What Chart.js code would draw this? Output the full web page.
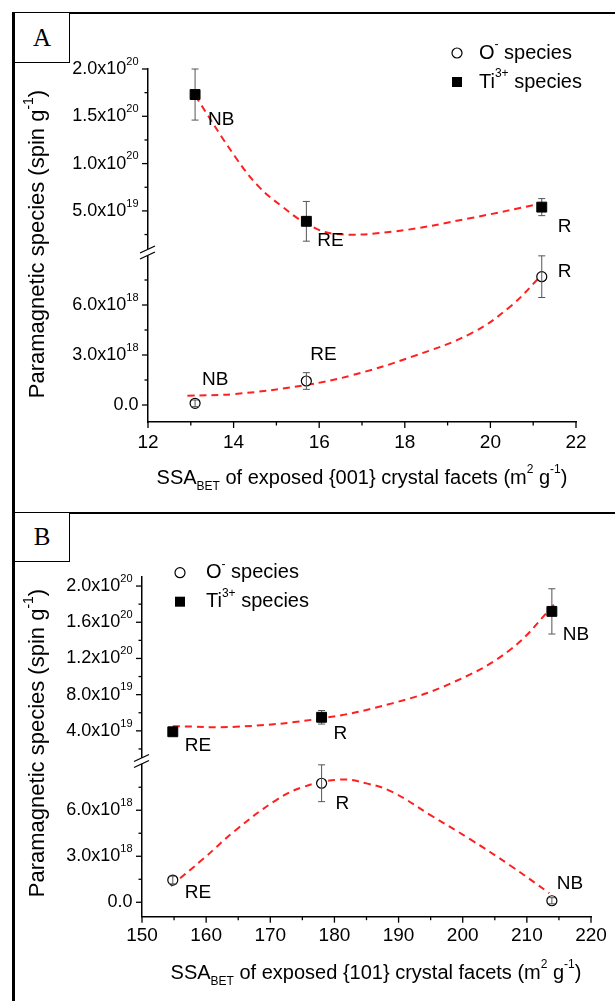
<!DOCTYPE html>
<html>
<head>
<meta charset="utf-8">
<script src="https://cdn.jsdelivr.net/npm/chart.js@4.4.1/dist/chart.umd.min.js"></script>
<style>
  body { margin: 0; background: #fff; width: 615px; height: 1001px; overflow: hidden; position: relative; }
  .panel { position: absolute; border-top: 2px solid #000; border-left: 3px solid #000; }
  .tag { position: absolute; box-sizing: border-box; border: 1.5px solid #000; border-left: 3px solid #000;
         font-family: "Liberation Serif", "Times New Roman", serif; font-size: 25px;
         display: flex; align-items: center; justify-content: center; background: #fff; }
  .wrap { position: absolute; left: 0; width: 615px; }
</style>
</head>
<body>
<div class="panel" style="left:12px;top:12px;width:640px;height:500px"></div>
<div class="panel" style="left:12px;top:512px;width:640px;height:520px"></div>
<div class="tag" style="left:12px;top:12px;width:58px;height:51px">A</div>
<div class="tag" style="left:12px;top:512px;width:58px;height:50px">B</div>
<div class="wrap" style="top:0;height:513px"><canvas id="chartA"></canvas></div>
<div class="wrap" style="top:513px;height:488px"><canvas id="chartB"></canvas></div>
<script>
// ---- panel A: SSA of exposed {001} facets ----
var aX = [13.1, 15.7, 21.2];
var aNames = ['NB', 'RE', 'R'];
var aTi = [1.73e20, 3.9e19, 5.4e19];
var aTiErr = [2.7e19, 2.1e19, 0.9e19];
var aO = [0.1e18, 1.44e18, 7.7e18];
var aOErr = [0.2e18, 0.5e18, 1.25e18];
var aTiFitX = [13.1, 14.04, 14.59, 15.14, 15.69, 16.33, 17.7, 19.55, 21.2];
var aTiFitY = [1.72e20, 1.07e20, 7.56e19, 5.44e19, 3.7e19, 2.6e19, 2.8e19, 4.25e19, 5.8e19];
var aOFitX = [12.92, 14.04, 15.69, 16.79, 18.17, 19.55, 20.46, 21.2];
var aOFitY = [0.56e18, 0.66e18, 1.2e18, 1.8e18, 2.9e18, 4.3e18, 5.9e18, 7.8e18];
var aXTicks = [12, 14, 16, 18, 20, 22];
var aXMinor = [13, 15, 17, 19, 21];
var aUpTicks = [5e19, 1e20, 1.5e20, 2e20];
var aUpLabels = ['5.0x10^19', '1.0x10^20', '1.5x10^20', '2.0x10^20'];
var aUpMinor = [2.5e19, 7.5e19, 1.25e20, 1.75e20];

// ---- panel B: SSA of exposed {101} facets ----
var bX = [154.8, 178.0, 213.9];
var bNames = ['RE', 'R', 'NB'];
var bTi = [3.9e19, 5.5e19, 1.72e20];
var bTiErr = [0.3e19, 0.75e19, 2.5e19];
var bO = [1.45e18, 7.76e18, 0.1e18];
var bOErr = [0.25e18, 1.2e18, 0.2e18];
var bTiFitX = [154.8, 164.6, 178, 189, 198.2, 207.4, 214.7];
var bTiFitY = [4.52e19, 4.45e19, 5.38e19, 7.04e19, 9.26e19, 1.296e20, 1.83e20];
var bOFitX = [154.5, 159.6, 164.6, 170.7, 175, 180.9, 185, 189, 195.1, 201.2, 207.4, 213.5];
var bOFitY = [1.06e18, 2.85e18, 4.7e18, 6.6e18, 7.5e18, 8.0e18, 7.75e18, 7.2e18, 5.65e18, 4.1e18, 2.4e18, 0.6e18];
var bXTicks = [150, 160, 170, 180, 190, 200, 210, 220];
var bXMinor = [155, 165, 175, 185, 195, 205, 215];
var bUpTicks = [4e19, 8e19, 1.2e20, 1.6e20, 2e20];
var bUpLabels = ['4.0x10^19', '8.0x10^19', '1.2x10^20', '1.6x10^20', '2.0x10^20'];
var bUpMinor = [2e19, 6e19, 1e20, 1.4e20, 1.8e20];

// lower (broken) segment, same in both panels
var lowTicks = [0, 3e18, 6e18];
var lowLabels = ['0.0', '3.0x10^18', '6.0x10^18'];
var lowMinor = [1.5e18, 4.5e18, 7.5e18];

var FONT = '"Liberation Sans", Arial, sans-serif';
var RED = '#ff1f1f';

function pts(xs, ys) {
  return xs.map(function (x, i) { return { x: x, y: ys[i] }; });
}

function expParts(s) {
  var p = s.split('^');
  return p.length > 1 ? [[p[0], 'n'], [p[1], 'sup']] : [[p[0], 'n']];
}

function partFont(p, size) {
  return (p[1] === 'n' ? size : Math.round(size * 0.62)) + 'px ' + FONT;
}

function richWidth(ctx, parts, size) {
  var w = 0;
  parts.forEach(function (p) { ctx.font = partFont(p, size); w += ctx.measureText(p[0]).width; });
  return w;
}

function drawRich(ctx, parts, x, y, size, align) {
  var w = richWidth(ctx, parts, size);
  var cx = align === 'right' ? x - w : (align === 'center' ? x - w / 2 : x);
  ctx.textAlign = 'left';
  ctx.textBaseline = 'middle';
  parts.forEach(function (p) {
    ctx.font = partFont(p, size);
    var dy = p[1] === 'sup' ? -size * 0.4 : (p[1] === 'sub' ? size * 0.42 : 0);
    ctx.fillText(p[0], cx, y + dy);
    cx += ctx.measureText(p[0]).width;
  });
}

function seg(ctx, x1, y1, x2, y2) {
  ctx.beginPath(); ctx.moveTo(x1, y1); ctx.lineTo(x2, y2); ctx.stroke();
}

function drawErrors(chart, list, front) {
  var ctx = chart.ctx, xs = chart.scales.x;
  list.forEach(function (e) {
    if (!!e.front !== front) return;
    var ys = chart.scales[e.scale];
    ctx.save();
    ctx.strokeStyle = '#555';
    ctx.lineWidth = 1;
    e.x.forEach(function (xv, i) {
      var px = xs.getPixelForValue(xv);
      var t = ys.getPixelForValue(e.y[i] + e.err[i]);
      var b = ys.getPixelForValue(e.y[i] - e.err[i]);
      ctx.beginPath();
      ctx.moveTo(px, t); ctx.lineTo(px, b);
      ctx.moveTo(px - 3.5, t); ctx.lineTo(px + 3.5, t);
      ctx.moveTo(px - 3.5, b); ctx.lineTo(px + 3.5, b);
      ctx.stroke();
    });
    ctx.restore();
  });
}

var panelPlugin = {
  id: 'panel',
  beforeDatasetsDraw: function (chart, args, o) { drawErrors(chart, o.errors, false); },
  afterDatasetsDraw: function (chart, args, o) {
    var ctx = chart.ctx, xs = chart.scales.x, area = chart.chartArea;
    drawErrors(chart, o.errors, true);
    ctx.save();
    ctx.strokeStyle = '#000';
    ctx.fillStyle = '#000';
    ctx.lineWidth = 1.3;

    // x axis ticks + labels
    var yb = area.bottom;
    o.xTicks.forEach(function (v) {
      var px = xs.getPixelForValue(v);
      seg(ctx, px, yb, px, yb + 6);
      ctx.font = '19px ' + FONT;
      ctx.textAlign = 'center';
      ctx.textBaseline = 'middle';
      ctx.fillText(String(v), px, yb + o.xLabelDy);
    });
    o.xMinor.forEach(function (v) {
      var px = xs.getPixelForValue(v);
      seg(ctx, px, yb, px, yb + 3.5);
    });

    // y axes ticks + labels
    var ax = area.left;
    o.yAxes.forEach(function (a) {
      var s = chart.scales[a.id];
      a.major.forEach(function (v, i) {
        var py = s.getPixelForValue(v);
        seg(ctx, ax - 6, py, ax, py);
        drawRich(ctx, expParts(a.labels[i]), ax - 9.5, py, 18, 'right');
      });
      a.minor.forEach(function (v) {
        var py = s.getPixelForValue(v);
        seg(ctx, ax - 3.5, py, ax, py);
      });
    });

    // axis break
    var b = chart.scales.yU.bottom;
    ctx.fillStyle = '#fff';
    ctx.fillRect(ax - 3, b - 3.2, 6, 6);
    ctx.fillStyle = '#000';
    ctx.lineWidth = 1.3;
    seg(ctx, ax - 8, b + 0.5, ax + 7, b - 6.5);
    seg(ctx, ax - 8, b + 6.5, ax + 7, b - 0.5);

    // point labels
    o.pointLabels.forEach(function (pl) {
      var ys = chart.scales[pl.scale];
      pl.x.forEach(function (xv, i) {
        ctx.font = '19px ' + FONT;
        ctx.textAlign = 'left';
        ctx.textBaseline = 'middle';
        ctx.fillText(pl.text[i], xs.getPixelForValue(xv) + pl.dx[i], ys.getPixelForValue(pl.y[i]) + pl.dy[i]);
      });
    });

    // legend
    var L = o.legend;
    ctx.lineWidth = 1.2;
    ctx.beginPath(); ctx.arc(L.mx, L.y1, 5, 0, Math.PI * 2); ctx.stroke();
    ctx.fillRect(L.mx - 5, L.y2 - 5, 10, 10);
    drawRich(ctx, [['O', 'n'], ['-', 'sup'], [' species', 'n']], L.tx, L.y1, 20, 'left');
    drawRich(ctx, [['Ti', 'n'], ['3+', 'sup'], [' species', 'n']], L.tx, L.y2, 20, 'left');

    // axis titles
    drawRich(ctx, o.xTitle, o.xTitlePos.x, o.xTitlePos.y, 20, 'center');
    ctx.save();
    ctx.translate(o.yTitlePos.x, o.yTitlePos.y);
    ctx.rotate(-Math.PI / 2);
    drawRich(ctx, [['Paramagnetic species (spin g', 'n'], ['-1', 'sup'], [')', 'n']], 0, 0, 22, 'center');
    ctx.restore();

    ctx.restore();
  }
};

function buildChart(id, c) {
  var plain = { grid: { display: false }, ticks: { display: false }, border: { color: '#000', width: 1.5 } };
  function sc(extra) { return Object.assign({}, plain, extra); }
  return new Chart(document.getElementById(id), {
    type: 'scatter',
    data: {
      datasets: [
        { label: 'Ti3+ species', data: pts(c.x, c.ti), yAxisID: 'yU', pointStyle: 'rect', pointRadius: 7,
          backgroundColor: '#000', borderColor: '#000', borderWidth: 1 },
        { label: 'O- species', data: pts(c.x, c.o), yAxisID: 'yL', pointStyle: 'circle', pointRadius: 5,
          backgroundColor: '#fff', borderColor: '#000', borderWidth: 1.2 },
        { label: 'Ti fit', data: pts(c.tiFitX, c.tiFitY), yAxisID: 'yU', showLine: true, pointRadius: 0,
          borderColor: RED, borderWidth: 2, borderDash: [7, 5], tension: 0.4 },
        { label: 'O fit', data: pts(c.oFitX, c.oFitY), yAxisID: 'yL', showLine: true, pointRadius: 0,
          borderColor: RED, borderWidth: 2, borderDash: [7, 5], tension: 0.4 }
      ]
    },
    options: {
      responsive: true,
      maintainAspectRatio: false,
      animation: false,
      layout: { padding: c.pad },
      plugins: { legend: { display: false }, tooltip: { enabled: false }, panel: c.panel },
      scales: {
        x: sc({ type: 'linear', min: c.xMin, max: c.xMax, afterFit: function (s) { s.height = 20; } }),
        yL: sc({ type: 'linear', position: 'left', stack: 'y', stackWeight: c.wL, min: c.lMin, max: c.lMax,
                 afterFit: function (s) { s.width = 40; } }),
        yU: sc({ type: 'linear', position: 'left', stack: 'y', stackWeight: c.wU, min: c.uMin, max: c.uMax,
                 afterFit: function (s) { s.width = 40; } })
      }
    },
    plugins: [panelPlugin]
  });
}

buildChart('chartA', {
  x: aX, ti: aTi, o: aO, tiFitX: aTiFitX, tiFitY: aTiFitY, oFitX: aOFitX, oFitY: aOFitY,
  pad: { left: 108, right: 39, top: 69, bottom: 71 },
  xMin: 12, xMax: 22,
  uMin: 6.03e18, uMax: 2e20, wU: 183.5,
  lMin: -1.02e18, lMax: 9.15e18, wL: 169.5,
  panel: {
    errors: [
      { scale: 'yU', x: aX, y: aTi, err: aTiErr, front: false },
      { scale: 'yL', x: aX, y: aO, err: aOErr, front: true }
    ],
    xTicks: aXTicks, xMinor: aXMinor, xLabelDy: 21,
    yAxes: [
      { id: 'yU', major: aUpTicks, labels: aUpLabels, minor: aUpMinor },
      { id: 'yL', major: lowTicks, labels: lowLabels, minor: lowMinor }
    ],
    pointLabels: [
      { scale: 'yU', x: aX, y: aTi, text: aNames, dx: [13, 11, 16], dy: [25, 19.5, 19.5] },
      { scale: 'yL', x: aX, y: aO, text: aNames, dx: [7, 4, 16], dy: [-24, -26, -5] }
    ],
    legend: { mx: 457, y1: 53, y2: 82, tx: 479 },
    xTitle: [['SSA', 'n'], ['BET', 'sub'], [' of exposed {001} crystal facets (m', 'n'], ['2', 'sup'], [' g', 'n'], ['-1', 'sup'], [')', 'n']],
    xTitlePos: { x: 362, y: 478 },
    yTitlePos: { x: 38, y: 244 }
  }
});

buildChart('chartB', {
  x: bX, ti: bTi, o: bO, tiFitX: bTiFitX, tiFitY: bTiFitY, oFitX: bOFitX, oFitY: bOFitY,
  pad: { left: 102, right: 24, top: 64, bottom: 64.3 },
  xMin: 150, xMax: 220,
  uMin: 6.7e18, uMax: 2.1e20, wU: 184,
  lMin: -0.94e18, lMax: 9.21e18, wL: 155.7,
  panel: {
    errors: [
      { scale: 'yU', x: bX, y: bTi, err: bTiErr, front: false },
      { scale: 'yL', x: bX, y: bO, err: bOErr, front: true }
    ],
    xTicks: bXTicks, xMinor: bXMinor, xLabelDy: 19,
    yAxes: [
      { id: 'yU', major: bUpTicks, labels: bUpLabels, minor: bUpMinor },
      { id: 'yL', major: lowTicks, labels: lowLabels, minor: lowMinor }
    ],
    pointLabels: [
      { scale: 'yU', x: bX, y: bTi, text: bNames, dx: [12, 12, 11], dy: [14, 16, 23] },
      { scale: 'yL', x: bX, y: bO, text: bNames, dx: [12, 14, 5], dy: [13, 21, -17] }
    ],
    legend: { mx: 180, y1: 59.7, y2: 88.7, tx: 206 },
    xTitle: [['SSA', 'n'], ['BET', 'sub'], [' of exposed {101} crystal facets (m', 'n'], ['2', 'sup'], [' g', 'n'], ['-1', 'sup'], [')', 'n']],
    xTitlePos: { x: 376, y: 460 },
    yTitlePos: { x: 38, y: 230 }
  }
});
</script>
</body>
</html>
